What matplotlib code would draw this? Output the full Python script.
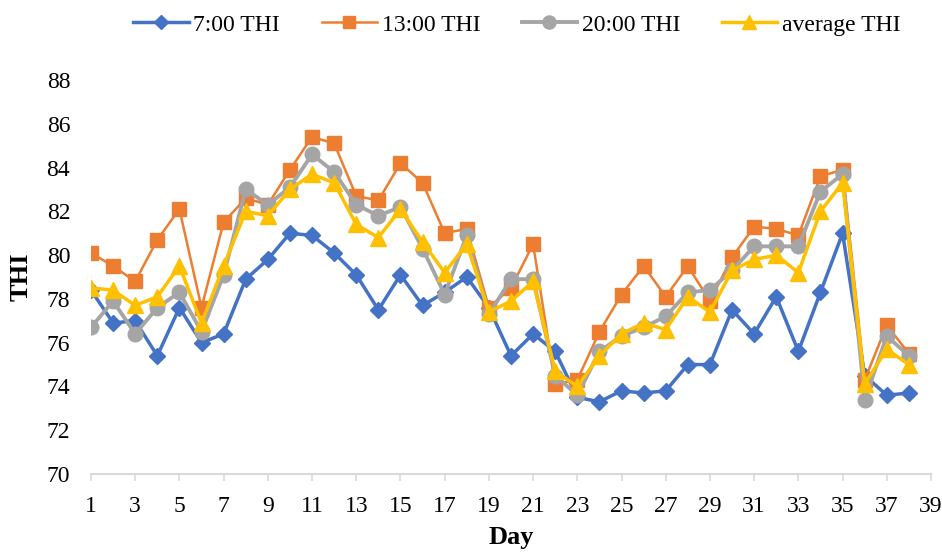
import matplotlib.pyplot as plt

# days 1..38
days = list(range(1, 39))

thi_7 = [78.4, 76.9, 77.0, 75.4, 77.6, 76.0, 76.4, 78.9, 79.8, 81.0,
         80.9, 80.1, 79.1, 77.5, 79.1, 77.7, 78.3, 79.0, 77.6, 75.4,
         76.4, 75.6, 73.5, 73.3, 73.8, 73.7, 73.8, 75.0, 75.0, 77.5,
         76.4, 78.1, 75.6, 78.3, 81.0, 74.5, 73.6, 73.7]

thi_13 = [80.1, 79.5, 78.8, 80.7, 82.1, 77.6, 81.5, 82.6, 82.3, 83.9,
          85.4, 85.1, 82.7, 82.5, 84.2, 83.3, 81.0, 81.2, 77.6, 78.5,
          80.5, 74.1, 74.3, 76.5, 78.2, 79.5, 78.1, 79.5, 77.9, 79.9,
          81.3, 81.2, 80.9, 83.6, 83.9, 74.3, 76.8, 75.5]

thi_20 = [76.7, 77.9, 76.4, 77.6, 78.3, 76.5, 79.1, 83.0, 82.3, 83.1,
          84.6, 83.8, 82.3, 81.8, 82.2, 80.3, 78.2, 80.9, 77.3, 78.9,
          78.9, 74.5, 73.6, 75.6, 76.3, 76.7, 77.2, 78.3, 78.4, 79.3,
          80.4, 80.4, 80.4, 82.9, 83.7, 73.4, 76.3, 75.4]

thi_avg = [78.5, 78.4, 77.7, 78.1, 79.5, 76.9, 79.5, 82.0, 81.8, 83.0,
           83.7, 83.3, 81.4, 80.8, 82.1, 80.6, 79.2, 80.5, 77.4, 77.9,
           78.8, 74.7, 74.0, 75.4, 76.4, 76.9, 76.6, 78.1, 77.4, 79.3,
           79.8, 80.0, 79.2, 82.0, 83.3, 74.1, 75.7, 75.0]

x_ticks = list(range(1, 40, 2))
y_ticks = list(range(70, 89, 2))

plt.rcParams['font.family'] = ['Liberation Serif', 'DejaVu Serif']

fig = plt.figure(figsize=(9.42, 5.53), dpi=100)
ax = fig.add_axes([91 / 942, 1 - 474 / 553, 840 / 942, 394 / 553])

ax.plot(days, thi_7, color='#4472C4', lw=2.5, marker='D', ms=8, label='7:00 THI')
ax.plot(days, thi_13, color='#ED7D31', lw=1.8, marker='s', ms=10, label='13:00 THI')
ax.plot(days, thi_20, color='#A5A5A5', lw=2.8, marker='o', ms=10.5, label='20:00 THI')
ax.plot(days, thi_avg, color='#FFC000', lw=2.5, marker='^', ms=11, label='average THI')

ax.set_xlim(1, 39)
ax.set_ylim(70, 88)
ax.set_xticks(x_ticks)
ax.set_yticks(y_ticks)

for s in ['top', 'right', 'left']:
    ax.spines[s].set_visible(False)
ax.spines['bottom'].set_color('#D9D9D9')
ax.spines['bottom'].set_linewidth(1.5)

ax.tick_params(axis='x', colors='#D9D9D9', length=5, width=1.2, pad=11,
               labelsize=17, labelcolor='black')
ax.tick_params(axis='y', length=0, pad=15, labelsize=17)

ax.set_xlabel('Day', fontsize=19, fontweight='bold', labelpad=6)
ax.set_ylabel('THI', fontsize=19, fontweight='bold', labelpad=10)

ax.legend(loc='center', bbox_to_anchor=(0.507, 1.14), ncol=4, frameon=False,
          fontsize=17, handlelength=2.35, columnspacing=1.75, handletextpad=0.2,
          markerscale=0.9)

plt.savefig('out.png', dpi=100)
